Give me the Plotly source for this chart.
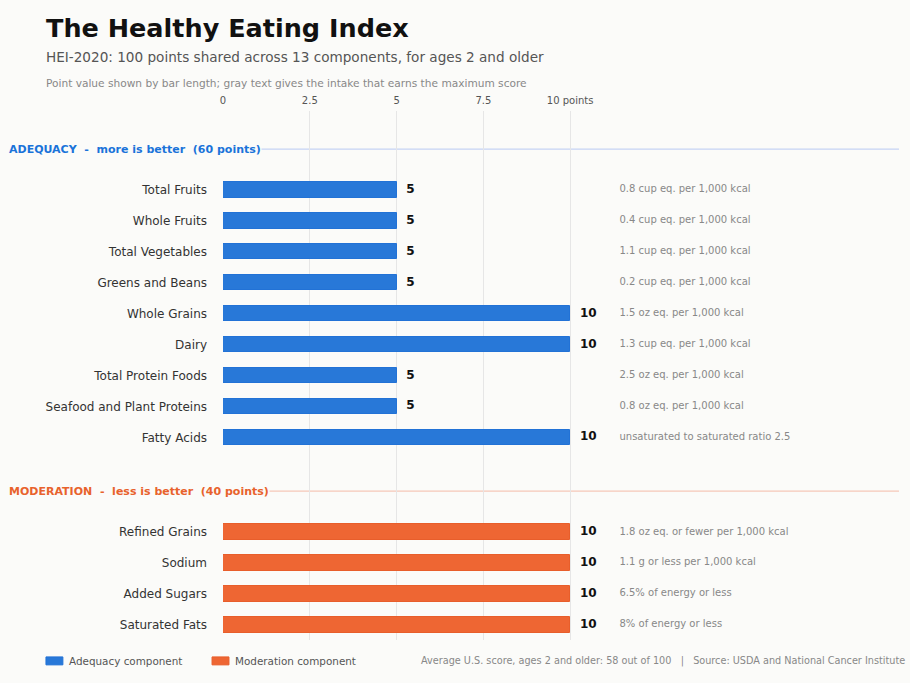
import plotly.graph_objects as go

# HEI-2020 components
adequacy_names = ["Total Fruits", "Whole Fruits", "Total Vegetables", "Greens and Beans",
                  "Whole Grains", "Dairy", "Total Protein Foods",
                  "Seafood and Plant Proteins", "Fatty Acids"]
adequacy_points = [5, 5, 5, 5, 10, 10, 5, 5, 10]
adequacy_standards = ["0.8 cup eq. per 1,000 kcal", "0.4 cup eq. per 1,000 kcal",
                      "1.1 cup eq. per 1,000 kcal", "0.2 cup eq. per 1,000 kcal",
                      "1.5 oz eq. per 1,000 kcal", "1.3 cup eq. per 1,000 kcal",
                      "2.5 oz eq. per 1,000 kcal", "0.8 oz eq. per 1,000 kcal",
                      "unsaturated to saturated ratio 2.5"]

moderation_names = ["Refined Grains", "Sodium", "Added Sugars", "Saturated Fats"]
moderation_points = [10, 10, 10, 10]
moderation_standards = ["1.8 oz eq. or fewer per 1,000 kcal", "1.1 g or less per 1,000 kcal",
                        "6.5% of energy or less", "8% of energy or less"]

x_ticks = [0, 2.5, 5, 7.5, 10]
x_ticklabels = ["0", "2.5", "5", "7.5", "10 points"]

BG = "#fbfbf9"
BLUE = "#2878d8"
BLUE_EDGE = "#2272d6"
ORANGE = "#ee6633"
ORANGE_EDGE = "#e85e2b"
FONT = "DejaVu Sans"

# row positions: a gap of about two rows between the two groups
GAP = 2.06
pos_a = list(range(len(adequacy_names)))
pos_m = [pos_a[-1] + 1 + GAP + i for i in range(len(moderation_names))]
head_a = -1.32
head_m = pos_a[-1] + 1.74

fig = go.Figure()

fig.add_trace(go.Bar(y=pos_a, x=adequacy_points, orientation="h", width=0.5,
                     marker=dict(color=BLUE, line=dict(color=BLUE_EDGE, width=1)),
                     name="Adequacy component", showlegend=False, hoverinfo="x+text",
                     hovertext=adequacy_names))
fig.add_trace(go.Bar(y=pos_m, x=moderation_points, orientation="h", width=0.5,
                     marker=dict(color=ORANGE, line=dict(color=ORANGE_EDGE, width=1)),
                     name="Moderation component", showlegend=False, hoverinfo="x+text",
                     hovertext=moderation_names))

# point labels at bar ends
all_pos = pos_a + pos_m
all_pts = adequacy_points + moderation_points
fig.add_trace(go.Scatter(x=[p + 0.28 for p in all_pts], y=all_pos, mode="text",
                         text=["<b>%d</b>" % p for p in all_pts], textposition="middle right",
                         textfont=dict(family=FONT, size=12, color="#111111"),
                         cliponaxis=False, showlegend=False, hoverinfo="skip"))
fig.add_trace(go.Scatter(x=[11.42] * len(all_pos), y=all_pos, mode="text",
                         text=adequacy_standards + moderation_standards,
                         textposition="middle right",
                         textfont=dict(family=FONT, size=10, color="#888888"),
                         cliponaxis=False, showlegend=False, hoverinfo="skip"))

# section headers
for yv, txt, col, lcol in [
    (head_a, "ADEQUACY\u00a0\u00a0-\u00a0\u00a0more is better\u00a0\u00a0(60 points)", "#1a73d9", "#c6d3f4"),
    (head_m, "MODERATION\u00a0\u00a0-\u00a0\u00a0less is better\u00a0\u00a0(40 points)", "#e8622c", "#f6c8b8"),
]:
    fig.add_shape(type="line", xref="paper", yref="y", x0=-0.31, x1=0.9985, y0=yv, y1=yv,
                  line=dict(color=lcol, width=1.2), layer="below")
    fig.add_annotation(xref="paper", yref="y", x=-0.3176, y=yv, xanchor="left", yanchor="middle",
                       text="<b>" + txt + "</b>", showarrow=False, bgcolor=BG, borderpad=0,
                       font=dict(family=FONT, size=11, color=col))

# titles
TX = -0.2645
fig.add_annotation(xref="paper", yref="paper", x=TX, y=1.157, xanchor="left", yanchor="middle",
                   text="<b>The Healthy Eating Index</b>", showarrow=False,
                   font=dict(family=FONT, size=25.5, color="#111111"))
fig.add_annotation(xref="paper", yref="paper", x=TX, y=1.102, xanchor="left", yanchor="middle",
                   text="HEI-2020: 100 points shared across 13 components, for ages 2 and older",
                   showarrow=False, font=dict(family=FONT, size=13.6, color="#555555"))
fig.add_annotation(xref="paper", yref="paper", x=TX, y=1.053, xanchor="left", yanchor="middle",
                   text="Point value shown by bar length; gray text gives the intake that earns the maximum score",
                   showarrow=False, font=dict(family=FONT, size=10.6, color="#888888"))

# legend keys and footer
for x0, col, edge, label in [(-0.2615, BLUE, BLUE_EDGE, "Adequacy component"),
                             (-0.0162, ORANGE, ORANGE_EDGE, "Moderation component")]:
    fig.add_shape(type="rect", xref="paper", yref="paper", x0=x0, x1=x0 + 0.025,
                  y0=-0.047, y1=-0.032, fillcolor=col, line=dict(color=edge, width=1))
    fig.add_annotation(xref="paper", yref="paper", x=x0 + 0.031, y=-0.0397, xanchor="left",
                       yanchor="middle", text=label, showarrow=False,
                       font=dict(family=FONT, size=10.4, color="#555555"))
fig.add_annotation(xref="paper", yref="paper", x=1.0104, y=-0.0397, xanchor="right", yanchor="middle",
                   text="Average U.S. score, ages 2 and older: 58 out of 100\u00a0\u00a0\u00a0|\u00a0\u00a0\u00a0Source: USDA and National Cancer Institute",
                   showarrow=False, font=dict(family=FONT, size=9.7, color="#888888"))

fig.update_layout(
    width=910, height=683,
    margin=dict(l=223, r=10, t=111, b=43),
    paper_bgcolor=BG, plot_bgcolor=BG,
    font=dict(family=FONT, color="#333333"),
    bargap=0, showlegend=False,
    xaxis=dict(range=[0, 19.5], side="top", tickvals=x_ticks, ticktext=x_ticklabels,
               showgrid=True, gridcolor="#e6e6e6", gridwidth=1, zeroline=False,
               showline=False, ticks="", ticklabelstandoff=4,
               tickfont=dict(family=FONT, size=10, color="#555555"), fixedrange=True),
    yaxis=dict(range=[14.55, -2.55], tickvals=all_pos,
               ticktext=adequacy_names + moderation_names, showgrid=False, zeroline=False,
               showline=False, ticks="", ticklabelstandoff=15,
               tickfont=dict(family=FONT, size=12, color="#333333"), fixedrange=True),
)

# full-bleed page so the chart fills the window
fig.write_html("out.html", config={"displayModeBar": False},
               post_script="document.body.style.margin='0';"
                           "document.body.style.backgroundColor='%s';" % BG)
